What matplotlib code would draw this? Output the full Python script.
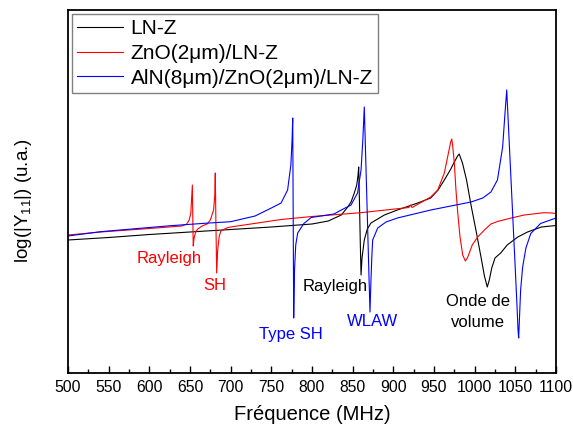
import matplotlib
matplotlib.use("Agg")
import matplotlib.pyplot as plt
from matplotlib.ticker import MultipleLocator

plt.rcParams['font.family'] = ['Liberation Sans', 'DejaVu Sans']
plt.rcParams['mathtext.fontset'] = 'custom'
plt.rcParams['mathtext.rm'] = 'Liberation Sans'
plt.rcParams['mathtext.it'] = 'Liberation Sans:italic'

# ---- data (frequency in MHz, log|Y11| in arbitrary units) ----
f_ln = [500, 550, 600, 650, 700, 750, 800, 820, 836, 844, 848, 852, 855, 856.5, 857.4,
        858.3, 859.3, 860.3, 861.5, 864.3, 868, 872.5, 889, 905, 930, 946, 955, 962.7,
        970, 975, 979, 981, 985, 990, 995.5, 1002, 1008, 1012, 1015.5, 1018, 1021, 1025,
        1032, 1040, 1053, 1065, 1082, 1100]
y_ln = [133, 135.5, 138.5, 141, 143.5, 146, 149, 152, 158, 166, 171, 180, 188, 197, 206,
        173, 133, 98, 115, 133, 144, 150, 158, 163, 170, 175, 183, 193,
        203, 211, 217, 219, 210, 193, 168, 141, 115, 97, 86, 93, 105, 115,
        120, 128, 136, 141, 146, 147.5]

f_zno = [500, 540, 600, 640, 646, 649, 651, 652.9, 653.4, 654, 655, 657, 659.5, 665, 671,
         675, 679, 680.5, 681.1, 681.8, 682.8, 684, 686, 688, 695, 700, 762, 800, 860,
         919, 921, 923, 946, 954.6, 962.7, 968, 970.5, 971.8, 973, 975, 977, 979.2, 982,
         985.3, 988.5, 991, 993.4, 997, 1003.7, 1012, 1020, 1028, 1045, 1061, 1085, 1095, 1100]
y_zno = [138, 141, 144.5, 147, 149, 153, 160, 188, 158, 127, 135, 141, 144, 147, 149,
         153, 163, 178, 200, 153, 100, 123, 137, 142, 145, 146, 153.5, 156.5, 160.3,
         165.5, 168, 165.5, 176, 183, 200, 221, 231, 234, 227, 210, 183, 160, 136,
         118, 112, 115, 120, 128, 136, 143, 149, 151.5, 155, 158, 160.3, 160, 159.5]

f_aln = [500, 540, 600, 626, 668, 700, 730, 750, 762, 770, 774, 775.5, 776.3, 776.9, 777.5,
         778.5, 780, 782.4, 790, 799, 827, 836, 848, 856, 860.3, 862.5, 864.3, 866, 868.5,
         870, 871.3, 872.3, 873.5, 874.6, 880.8, 891, 905, 946, 995.5, 1010, 1020, 1028,
         1034.4, 1037.3, 1039.4, 1041, 1044, 1047, 1050, 1052, 1053.3, 1054.1, 1055, 1056.5,
         1059, 1063, 1069, 1081, 1100]
y_aln = [137, 141.3, 145.5, 147.3, 149.7, 151.3, 157, 165, 170, 183, 208, 233, 255, 153, 55,
         103, 128, 140, 149.5, 155.5, 159, 163, 168, 180, 203, 233, 266, 216, 143,
         98, 61, 88, 115, 133, 145, 151, 155, 163, 171, 175, 181, 193,
         226, 260, 283, 256, 205, 154, 103, 68, 43, 35, 53, 83,
         106, 125, 139.5, 149.5, 155]

labels = ['LN-Z', 'ZnO(2\u03bcm)/LN-Z', 'AlN(8\u03bcm)/ZnO(2\u03bcm)/LN-Z']

annotations = [
    ('Rayleigh', 624, 114, 'red'),
    ('SH', 681, 87, 'red'),
    ('Type SH', 774, 39, 'blue'),
    ('Rayleigh', 829, 87, 'black'),
    ('WLAW', 874, 51, 'blue'),
    ('Onde de\nvolume', 1004, 61, 'black'),
]

xticks = list(range(500, 1101, 50))

# ---- figure ----
fig = plt.figure(figsize=(5.73, 4.33), dpi=100)
ax = fig.add_axes([68/573, 1-373/433, (556-68)/573, (373-10)/433])

ax.plot(f_ln, y_ln, color='black', lw=0.8, label=labels[0])
ax.plot(f_zno, y_zno, color='red', lw=0.8, label=labels[1])
ax.plot(f_aln, y_aln, color='blue', lw=0.8, label=labels[2])

for txt, x, y, c in annotations:
    ax.text(x, y, txt, color=c, fontsize=12, ha='center', va='center', linespacing=1.45)

ax.set_xlim(500, 1100)
ax.set_ylim(0, 363)
ax.set_xticks(xticks)
ax.xaxis.set_minor_locator(MultipleLocator(25))
ax.set_yticks([])
ax.tick_params(axis='x', which='major', direction='in', length=5, width=1, labelsize=11.3, pad=5)
ax.tick_params(axis='x', which='minor', direction='in', length=2.7, width=1)
for s in ax.spines.values():
    s.set_linewidth(1.3)

ax.set_xlabel('Fréquence (MHz)', fontsize=14.5, labelpad=7)
ax.set_ylabel('log(|Y$_{11}$|) (u.a.)', fontsize=13.5)
ax.yaxis.set_label_coords(-0.07, 0.475)

leg = ax.legend(loc='upper left', fontsize=15, handlelength=2.2, handletextpad=0.35,
                labelspacing=0.27, borderaxespad=0.2, fancybox=False, framealpha=1,
                borderpad=0.25)
leg.get_frame().set_edgecolor('#808080')
leg.get_frame().set_linewidth(1.0)

fig.savefig('out.png', dpi=100)
